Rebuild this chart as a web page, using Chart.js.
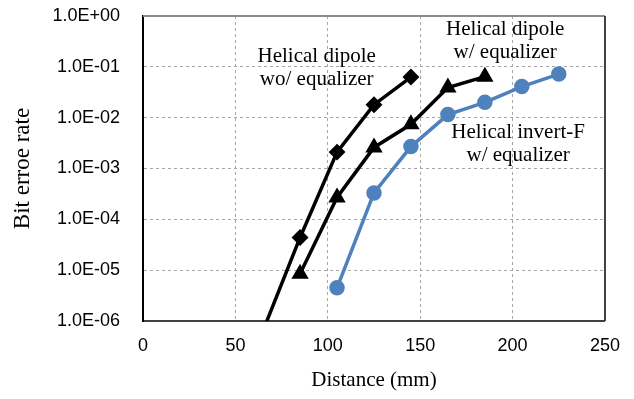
<!DOCTYPE html>
<html>
<head>
<meta charset="utf-8">
<script src="https://cdn.jsdelivr.net/npm/chart.js@4"></script>
<style>
  html, body { margin: 0; padding: 0; background: #fff; }
  #wrap { width: 634px; height: 399px; }
</style>
</head>
<body>
<div id="wrap"><canvas id="chart-ber"></canvas></div>
<script>
// distances (mm) and bit error rates
const dipoleWoX   = [65, 85, 105, 125, 145];
const dipoleWoBer = [6.5e-7, 4.4e-5, 2.1e-3, 1.8e-2, 6.3e-2];

const dipoleWX   = [85, 105, 125, 145, 165, 185];
const dipoleWBer = [8.5e-6, 2.7e-4, 2.6e-3, 7.4e-3, 3.9e-2, 6.4e-2];

const invertFX   = [105, 125, 145, 165, 185, 205, 225];
const invertFBer = [4.5e-6, 3.3e-4, 2.7e-3, 1.15e-2, 2.0e-2, 4.1e-2, 7.2e-2];

const xTicks = [0, 50, 100, 150, 200, 250];
const yTicks = [1e-6, 1e-5, 1e-4, 1e-3, 1e-2, 1e-1, 1];

const COLORS = {
  black: '#000000',
  blue:  '#4F81BD',
  grid:  '#A6A6A6',
  frame: '#8C8C8C',
  axis:  '#404040',
};

const toPoints = (xs, ys) => xs.map((x, i) => ({ x: x, y: ys[i] }));

const fmtExp = v => {
  const e = Math.round(Math.log10(v));
  const sign = e < 0 ? '-' : '+';
  return '1.0E' + sign + String(Math.abs(e)).padStart(2, '0');
};

// text labels next to the curves, anchored in data units
const notes = [
  { x: 94,  y: 0.093, lines: ['Helical dipole', 'wo/ equalizer'] },
  { x: 196, y: 0.32,  lines: ['Helical dipole', 'w/ equalizer'] },
  { x: 203, y: 0.003, lines: ['Helical invert-F', 'w/ equalizer'] },
];

const notesPlugin = {
  id: 'notes',
  afterDatasetsDraw(chart) {
    const { ctx, scales: { x, y } } = chart;
    ctx.save();
    ctx.font = '21px "Liberation Serif", "Times New Roman", serif';
    ctx.fillStyle = '#000';
    ctx.textAlign = 'center';
    ctx.textBaseline = 'middle';
    notes.forEach(n => {
      const px = x.getPixelForValue(n.x);
      const py = y.getPixelForValue(n.y);
      ctx.fillText(n.lines[0], px, py - 11.5);
      ctx.fillText(n.lines[1], px, py + 11.5);
    });
    ctx.restore();
  },
};

const framePlugin = {
  id: 'frame',
  afterDraw(chart) {
    const { ctx, chartArea: a } = chart;
    ctx.save();
    ctx.lineWidth = 2;
    ctx.strokeStyle = COLORS.frame;
    ctx.beginPath();
    ctx.moveTo(a.left, a.top);
    ctx.lineTo(a.right, a.top);
    ctx.stroke();
    ctx.strokeStyle = COLORS.axis;
    ctx.beginPath();
    ctx.moveTo(a.right, a.top);
    ctx.lineTo(a.right, a.bottom);
    ctx.stroke();
    ctx.restore();
  },
};

const tickFont = { family: '"Liberation Sans", Arial, sans-serif', size: 18 };
const titleFont = { family: '"Liberation Serif", "Times New Roman", serif', size: 21 };

new Chart(document.getElementById('chart-ber'), {
  type: 'scatter',
  data: {
    datasets: [
      {
        label: 'Helical dipole wo/ equalizer',
        data: toPoints(dipoleWoX, dipoleWoBer),
        showLine: true,
        borderColor: COLORS.black,
        backgroundColor: COLORS.black,
        borderWidth: 3.5,
        pointStyle: 'rectRot',
        pointRadius: dipoleWoX.map((_, i) => i === 0 ? 0 : 6),
        pointHoverRadius: 6,
      },
      {
        label: 'Helical dipole w/ equalizer',
        data: toPoints(dipoleWX, dipoleWBer),
        showLine: true,
        borderColor: COLORS.black,
        backgroundColor: COLORS.black,
        borderWidth: 3.5,
        pointStyle: 'triangle',
        pointRadius: 6.5,
        pointHoverRadius: 6.5,
      },
      {
        label: 'Helical invert-F w/ equalizer',
        data: toPoints(invertFX, invertFBer),
        showLine: true,
        borderColor: COLORS.blue,
        backgroundColor: COLORS.blue,
        borderWidth: 3.5,
        pointStyle: 'circle',
        pointRadius: 6,
        pointHoverRadius: 6,
      },
    ],
  },
  options: {
    responsive: true,
    maintainAspectRatio: false,
    animation: false,
    layout: { padding: { top: 0, right: 28, left: 0, bottom: 0 } },
    plugins: {
      legend: { display: false },
      tooltip: { enabled: false },
    },
    scales: {
      x: {
        type: 'linear',
        min: 0,
        max: 250,
        afterBuildTicks: s => { s.ticks = xTicks.map(v => ({ value: v })); },
        afterFit: s => { s.height = 78; },
        grid: {
          color: ctx => (ctx.tick && (ctx.tick.value === 0 || ctx.tick.value === 250)) ? 'rgba(0,0,0,0)' : COLORS.grid,
          lineWidth: 1,
          drawTicks: false,
        },
        border: { display: true, color: COLORS.axis, width: 2, dash: [3, 3] },
        ticks: { font: tickFont, color: '#000', padding: 14, maxRotation: 0 },
        title: { display: true, text: 'Distance (mm)', font: titleFont, color: '#000', padding: { top: 0, bottom: 6 } },
      },
      y: {
        type: 'logarithmic',
        min: 1e-6,
        max: 1,
        afterBuildTicks: s => { s.ticks = yTicks.map(v => ({ value: v })); },
        afterFit: s => { s.width = 143; s.paddingTop = 16; s.paddingBottom = 0; },
        grid: {
          color: ctx => (ctx.tick && (ctx.tick.value === 1 || ctx.tick.value === 1e-6)) ? 'rgba(0,0,0,0)' : COLORS.grid,
          lineWidth: 1,
          drawTicks: false,
        },
        border: { display: true, color: COLORS.black, width: 2, dash: [3, 3] },
        ticks: { font: tickFont, color: '#000', padding: 23, callback: v => fmtExp(v) },
        title: { display: true, text: 'Bit erroe rate', font: { family: titleFont.family, size: 23 }, color: '#000', padding: { top: 9, bottom: 0 } },
      },
    },
  },
  plugins: [notesPlugin, framePlugin],
});
</script>
</body>
</html>
